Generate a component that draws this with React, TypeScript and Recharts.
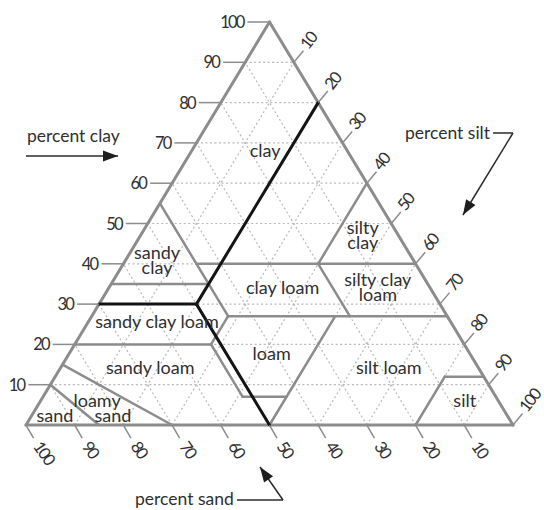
import React from 'react';
import { ScatterChart, XAxis, YAxis, Scatter, ReferenceLine } from 'recharts';

// ---------- data ----------
const tickValues = [10, 20, 30, 40, 50, 60, 70, 80, 90, 100];
const gridSteps = [10, 20, 30, 40, 50, 60, 70, 80, 90];

// texture-class boundaries as [clay %, sand %] end points
const textureBoundaries: [number, number][][] = [
  [[0, 85], [10, 90]],
  [[0, 70], [15, 85]],
  [[20, 80], [20, 52]],
  [[20, 52], [7, 52]],
  [[7, 52], [7, 43]],
  [[0, 50], [27, 23]],
  [[20, 52], [27, 45]],
  [[27, 45], [27, 0]],
  [[27, 45], [55, 45]],
  [[35, 65], [35, 45]],
  [[40, 45], [40, 0]],
  [[40, 20], [60, 0]],
  [[40, 20], [27, 20]],
  [[0, 20], [12, 8]],
  [[12, 8], [12, 0]],
];

// worked example: 30 % clay, 50 % sand, 20 % silt
const exampleLines: [number, number][][] = [
  [[30, 70], [30, 50]],
  [[30, 50], [0, 50]],
  [[30, 50], [80, 0]],
];

// texture class names (lines separated by "\n") at [clay %, sand %]
const textureLabels = [
  { text: 'clay', clay: 68.2, sand: 16.8 },
  { text: 'sandy\nclay', clay: 41.0, sand: 52.6 },
  { text: 'silty\nclay', clay: 47.3, sand: 7.2 },
  { text: 'clay loam', clay: 34.2, sand: 30.2 },
  { text: 'silty clay\nloam', clay: 34.3, sand: 10.6 },
  { text: 'sandy clay loam', clay: 25.8, sand: 60.2 },
  { text: 'sandy loam', clay: 14.4, sand: 67.3 },
  { text: 'loam', clay: 17.9, sand: 40.6 },
  { text: 'silt loam', clay: 14.4, sand: 18.3 },
  { text: 'silt', clay: 6.2, sand: 6.8 },
  { text: 'loamy', clay: 6.2, sand: 82.3 },
  { text: 'sand', clay: 2.5, sand: 80.9 },
  { text: 'sand', clay: 2.5, sand: 92.8 },
];

// axis titles with their arrows (chart units: x = silt + clay/2, y = clay)
const axisTitles = [
  { text: 'percent clay', x: 0.2, y: 71.96, anchor: 'start' },
  { text: 'percent silt', x: 95.28, y: 72.46, anchor: 'end' },
  { text: 'percent sand', x: 22.38, y: -18.36, anchor: 'start' },
];
const arrowPaths: { x: number; y: number }[][] = [
  [{ x: 0, y: 66.75 }, { x: 18.89, y: 66.75 }],
  [{ x: 95.9, y: 72.46 }, { x: 100, y: 72.46 }, { x: 89.73, y: 52.11 }],
  [{ x: 43.33, y: -18.61 }, { x: 52.77, y: -18.61 }, { x: 48.05, y: -10.42 }],
];

// ---------- helpers ----------
const FONT = 'Lato, "Open Sans", sans-serif';
const TEXT = '#2f2f2f';
const LINE = '#8c8c8c';

const tern = (clay: number, sand: number) => ({ x: 100 - sand - clay / 2, y: clay });

const X_DOMAIN: [number, number] = [-5.34, 106.37];
const Y_DOMAIN: [number, number] = [-21.09, 105.46];

const gridSegments: { x: number; y: number }[][] = [];
gridSteps.forEach((k) => {
  gridSegments.push([{ x: k / 2, y: k }, { x: 100 - k / 2, y: k }]); // clay = k
  gridSegments.push([{ x: 100 - k, y: 0 }, { x: (100 - k) / 2, y: 100 - k }]); // sand = k
  gridSegments.push([{ x: k, y: 0 }, { x: k + (100 - k) / 2, y: 100 - k }]); // silt = k
});

const outline = [
  [{ x: 0, y: 0 }, { x: 100, y: 0 }],
  [{ x: 0, y: 0 }, { x: 50, y: 100 }],
  [{ x: 100, y: 0 }, { x: 50, y: 100 }],
];

const clayTickData = tickValues.map((v) => ({ ...tern(v, 100 - v), label: v }));
const siltTickData = tickValues.map((v) => ({ ...tern(100 - v, 0), label: v }));
const sandTickData = tickValues.map((v) => ({ ...tern(0, v), label: v }));
const labelData = textureLabels.map((l) => ({ ...tern(l.clay, l.sand), text: l.text }));
const arrowTips = arrowPaths.map((p) => {
  const a = p[p.length - 1];
  const b = p[p.length - 2];
  return { x: a.x, y: a.y, fx: b.x, fy: b.y };
});

const tickFont = { fontFamily: FONT, fontSize: 16.5, fill: TEXT, letterSpacing: -1.8 } as const;

const ClayTick = (p: any) => (
  <g>
    <line x1={p.cx - 22} y1={p.cy} x2={p.cx} y2={p.cy} stroke={LINE} strokeWidth={1.5} />
    <text x={p.cx - 26} y={p.cy} textAnchor="end" dominantBaseline="central" {...tickFont}>
      {p.payload.label}
    </text>
  </g>
);

const SiltTick = (p: any) => {
  const ex = p.cx + 9.6;
  const ey = p.cy - 11.5;
  const tx = ex;
  const ty = ey - 4;
  return (
    <g>
      <line x1={p.cx} y1={p.cy} x2={ex} y2={ey} stroke={LINE} strokeWidth={1.5} />
      <text x={tx} y={ty} textAnchor="start" dominantBaseline="central" transform={`rotate(-52 ${tx} ${ty})`} {...tickFont}>
        {p.payload.label}
      </text>
    </g>
  );
};

const SandTick = (p: any) => {
  const ex = p.cx + 7.5;
  const ey = p.cy + 13;
  const tx = ex + 4;
  const ty = ey + 5;
  return (
    <g>
      <line x1={p.cx} y1={p.cy} x2={ex} y2={ey} stroke={LINE} strokeWidth={1.5} />
      <text x={tx} y={ty} textAnchor="start" dominantBaseline="central" transform={`rotate(55 ${tx} ${ty})`} {...tickFont}>
        {p.payload.label}
      </text>
    </g>
  );
};

const LINE_STEP = 15;
const RegionLabel = (p: any) => {
  const lines: string[] = String(p.payload.text).split('\n');
  const y0 = p.cy - ((lines.length - 1) * LINE_STEP) / 2;
  return (
    <text x={p.cx} y={y0} textAnchor="middle" dominantBaseline="central" fontFamily={FONT} fontSize={18} fill={TEXT}>
      {lines.map((t, i) => (
        <tspan key={i} x={p.cx} y={y0 + i * LINE_STEP}>
          {t}
        </tspan>
      ))}
    </text>
  );
};

const TitleLabel = (p: any) => (
  <text x={p.cx} y={p.cy} textAnchor={p.payload.anchor} dominantBaseline="central" fontFamily={FONT} fontSize={17.5} fill={TEXT}>
    {p.payload.text}
  </text>
);

const ArrowHead = (p: any) => {
  const pxPerX = 544 / (X_DOMAIN[1] - X_DOMAIN[0]);
  const pxPerY = 510 / (Y_DOMAIN[1] - Y_DOMAIN[0]);
  const dx = (p.payload.x - p.payload.fx) * pxPerX;
  const dy = -(p.payload.y - p.payload.fy) * pxPerY;
  const len = Math.hypot(dx, dy) || 1;
  const ux = dx / len;
  const uy = dy / len;
  const L = 15;
  const w = 5.5;
  const bx = p.cx - ux * L;
  const by = p.cy - uy * L;
  const pts = `${p.cx},${p.cy} ${bx - uy * w},${by + ux * w} ${bx + uy * w},${by - ux * w}`;
  return <polygon points={pts} fill="#1e1e1e" />;
};

export default function App() {
  return (
    <div style={{ position: 'absolute', left: 0, top: 0, width: 544, height: 510, background: '#fff' }}>
      <ScatterChart width={544} height={510} margin={{ top: 0, right: 0, bottom: 0, left: 0 }}>
        <XAxis type="number" dataKey="x" domain={X_DOMAIN} hide />
        <YAxis type="number" dataKey="y" domain={Y_DOMAIN} hide />

        {gridSegments.map((s, i) => (
          <ReferenceLine key={`g${i}`} segment={s} stroke="#b8b8b8" strokeWidth={1.2} strokeDasharray="2 2.5" />
        ))}
        {textureBoundaries.map((s, i) => (
          <ReferenceLine key={`b${i}`} segment={s.map(([c, sd]) => tern(c, sd))} stroke={LINE} strokeWidth={2.5} strokeLinecap="round" />
        ))}
        {outline.map((s, i) => (
          <ReferenceLine key={`o${i}`} segment={s} stroke={LINE} strokeWidth={3} strokeLinecap="round" />
        ))}
        {exampleLines.map((s, i) => (
          <ReferenceLine key={`e${i}`} segment={s.map(([c, sd]) => tern(c, sd))} stroke="#141414" strokeWidth={3} strokeLinecap="round" />
        ))}
        {arrowPaths.map((path, i) =>
          path.slice(1).map((pt, j) => (
            <ReferenceLine key={`a${i}-${j}`} segment={[path[j], pt]} stroke="#2a2a2a" strokeWidth={1.5} />
          ))
        )}

        <Scatter data={clayTickData} shape={ClayTick} isAnimationActive={false} />
        <Scatter data={siltTickData} shape={SiltTick} isAnimationActive={false} />
        <Scatter data={sandTickData} shape={SandTick} isAnimationActive={false} />
        <Scatter data={labelData} shape={RegionLabel} isAnimationActive={false} />
        <Scatter data={axisTitles} shape={TitleLabel} isAnimationActive={false} />
        <Scatter data={arrowTips} shape={ArrowHead} isAnimationActive={false} />
      </ScatterChart>
    </div>
  );
}
